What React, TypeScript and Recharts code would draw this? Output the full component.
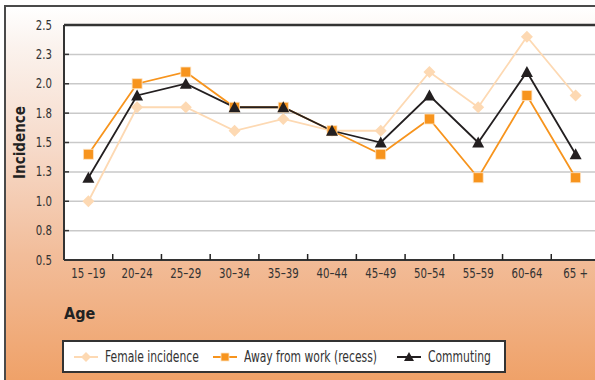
import React from 'react'
import {
  LineChart, Line, XAxis, YAxis, CartesianGrid, ReferenceLine,
} from 'recharts'

const ages = ['15 \u201319', '20\u201324', '25\u201329', '30\u201334', '35\u201339', '40\u201344', '45\u201349', '50\u201354', '55\u201359', '60\u201364', '65 +']
const female = [1.0, 1.8, 1.8, 1.6, 1.7, 1.6, 1.6, 2.1, 1.8, 2.4, 1.9]
const recess = [1.4, 2.0, 2.1, 1.8, 1.8, 1.6, 1.4, 1.7, 1.2, 1.9, 1.2]
const commuting = [1.2, 1.9, 2.0, 1.8, 1.8, 1.6, 1.5, 1.9, 1.5, 2.1, 1.4]
const yTicks = [0.5, 0.75, 1.0, 1.25, 1.5, 1.75, 2.0, 2.25, 2.5]

const series = [
  { key: 'female', name: 'Female incidence', color: '#fdd9b3', shape: 'diamond', legendLeft: 9 },
  { key: 'recess', name: 'Away from work (recess)', color: '#f7941d', shape: 'square', legendLeft: 148 },
  { key: 'commuting', name: 'Commuting', color: '#231f20', shape: 'triangle', legendLeft: 332 },
]

const data = ages.map((age, i) => ({
  age, female: female[i], recess: recess[i], commuting: commuting[i],
}))

const FONT = '"DejaVu Sans Condensed", "Liberation Sans Narrow", "Liberation Sans", sans-serif'
const SQUEEZE = 0.84
const X_MARGIN = 6
const Y_MARGIN = 12

function Marker({ cx, cy, shape, color, size = 5 }: any) {
  if (cx == null || cy == null) return null
  if (shape === 'diamond') {
    const s = size + 1
    return <polygon points={`${cx},${cy - s} ${cx + s},${cy} ${cx},${cy + s} ${cx - s},${cy}`} fill={color} />
  }
  if (shape === 'square') {
    return <rect x={cx - size} y={cy - size} width={size * 2} height={size * 2} fill={color} stroke="#fde3c4" strokeWidth={0.8} />
  }
  const s = size + 1
  return <polygon points={`${cx},${cy - s} ${cx + s},${cy + s - 1} ${cx - s},${cy + s - 1}`} fill={color} />
}

// label at the band centre, plus a short inward tick at the band's right edge
function XTick({ x, y, payload, index }: any) {
  const half = payload.offset || 0
  return (
    <g transform={`translate(${x},${y})`}>
      {index < ages.length - 1 && (
        <line x1={half} x2={half} y1={-X_MARGIN - 6} y2={-X_MARGIN} stroke="#222" strokeWidth={1.5} />
      )}
      <text transform={`scale(${SQUEEZE},1)`} textAnchor="middle" dy={12} fill="#333" fontSize={13.5} fontFamily={FONT}>
        {payload.value}
      </text>
    </g>
  )
}

function YTick({ x, y, payload, index }: any) {
  return (
    <g transform={`translate(${x},${y})`}>
      {index > 0 && (
        <line x1={Y_MARGIN} x2={Y_MARGIN + 5} y1={0} y2={0} stroke="#333" strokeWidth={1.5} />
      )}
      <text transform={`scale(${SQUEEZE},1)`} textAnchor="end" dy={4.5} fill="#333" fontSize={13.5} fontFamily={FONT}>
        {Number(payload.value).toFixed(1)}
      </text>
    </g>
  )
}

function LegendIcon({ shape, color }: any) {
  return (
    <svg width={26} height={14} style={{ display: 'block' }}>
      <line x1={1} y1={7} x2={25} y2={7} stroke={color} strokeWidth={2} />
      <Marker cx={13} cy={7} shape={shape} color={color} size={4} />
    </svg>
  )
}

export default function App() {
  return (
    <div style={{
      position: 'fixed', left: 0, top: 0, width: 595, height: 380, overflow: 'hidden',
      fontFamily: FONT,
    }}>
      <div style={{
        position: 'absolute', left: 4, top: 5, width: 600, height: 380,
        borderTop: '2px solid #4a4a4a', borderLeft: '2px solid #4a4a4a',
        background: 'linear-gradient(to bottom, #ffffff 0%, #fbf3ee 10%, #f6d9c8 38%, #f2bd9a 65%, #efa066 100%)',
      }} />
      <div style={{ position: 'absolute', left: 0, top: 0 }}>
        <LineChart width={600} height={380} data={data} margin={{ top: 25, right: 0, bottom: 90, left: 0 }}>
          <CartesianGrid vertical={false} stroke="#c9c9c9" strokeWidth={1.5} fill="#ffffff" fillOpacity={1} />
          <XAxis dataKey="age" height={30} tickLine={false} tickSize={0} scale="band"
            axisLine={{ stroke: '#333', strokeWidth: 2 }} tickMargin={X_MARGIN}
            tick={<XTick />} interval={0} />
          <YAxis domain={[0.5, 2.5]} ticks={yTicks} width={64} interval={0}
            tickSize={0} tickMargin={Y_MARGIN}
            axisLine={{ stroke: '#333', strokeWidth: 2 }}
            tick={<YTick />}
            label={{ value: 'Incidence', angle: -90, position: 'insideLeft', offset: 20, style: { fill: '#222', fontSize: 15, fontWeight: 700, fontFamily: FONT, textAnchor: 'middle' } }} />
          <ReferenceLine y={2.5} stroke="#333" strokeWidth={2.5} />
          {series.map((s) => (
            <Line key={s.key} dataKey={s.key} name={s.name} stroke={s.color} strokeWidth={1.8}
              isAnimationActive={false}
              dot={(p: any) => <Marker key={`${s.key}-${p.index}`} cx={p.cx} cy={p.cy} shape={s.shape} color={s.color} />}
              activeDot={false} />
          ))}
        </LineChart>
      </div>
      <div style={{ position: 'absolute', left: 64, top: 304, fontSize: 16, fontWeight: 700, color: '#222' }}>Age</div>
      <div style={{
        position: 'absolute', left: 62, top: 340, width: 444, height: 33, background: '#fff',
        border: '2px solid #333', boxSizing: 'border-box', fontSize: 15, color: '#333',
      }}>
        {series.map((s) => (
          <div key={s.key} style={{
            position: 'absolute', left: s.legendLeft, top: 0, height: 29,
            display: 'flex', alignItems: 'center', whiteSpace: 'nowrap',
          }}>
            <LegendIcon shape={s.shape} color={s.color} />
            <span style={{ marginLeft: 6, display: 'inline-block', transform: `scaleX(${SQUEEZE * 0.95})`, transformOrigin: 'left center' }}>{s.name}</span>
          </div>
        ))}
      </div>
    </div>
  )
}
